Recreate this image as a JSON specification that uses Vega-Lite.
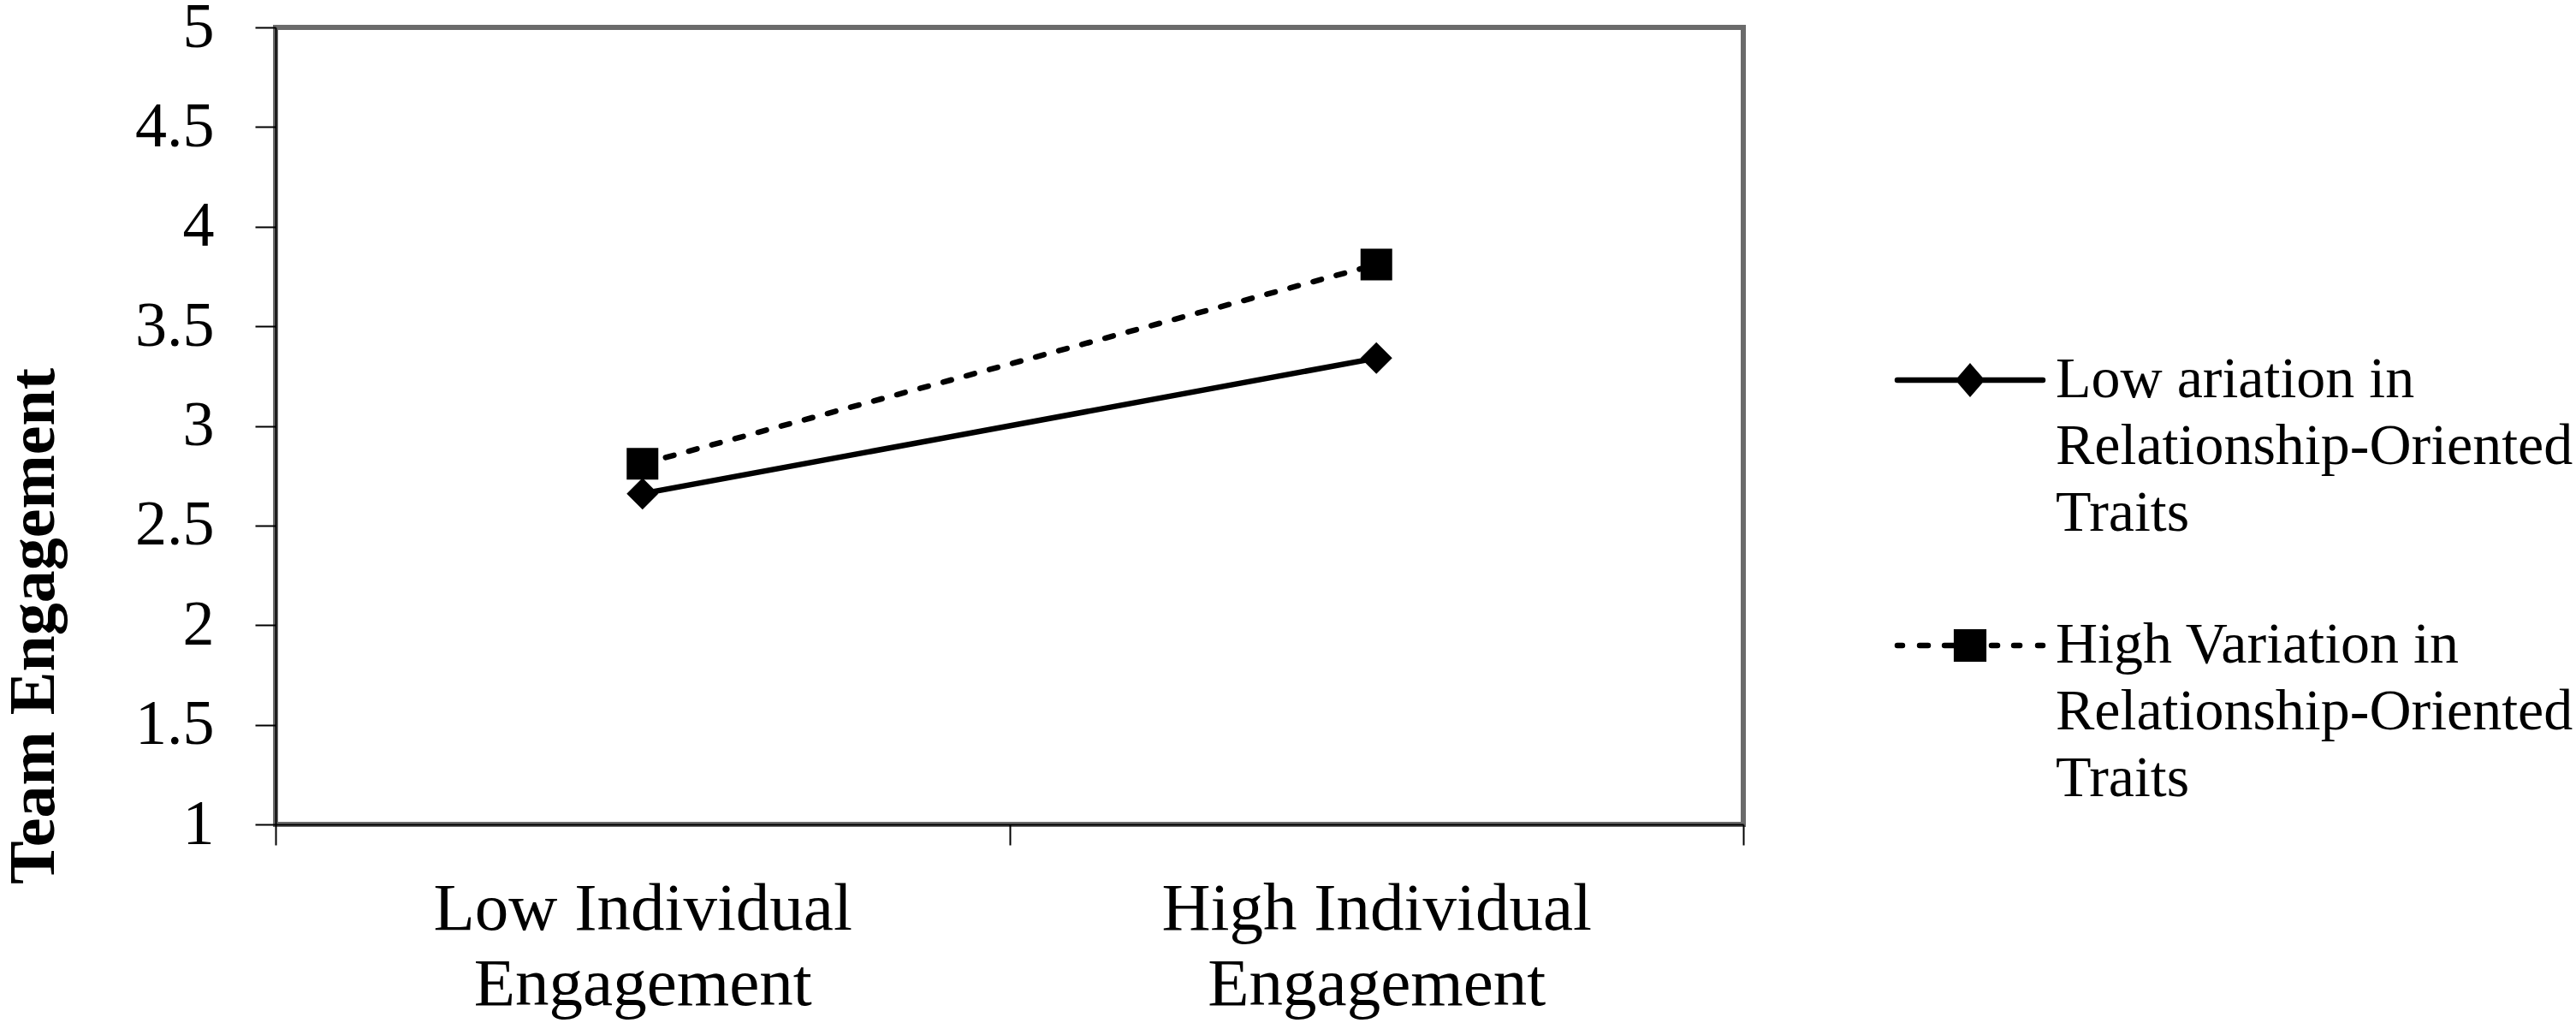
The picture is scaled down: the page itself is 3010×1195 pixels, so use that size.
{
  "$schema": "https://vega.github.io/schema/vega-lite/v6.json",
  "autosize": "none",
  "width": 1715,
  "height": 931,
  "padding": {"left": 322, "top": 32, "right": 973, "bottom": 232},
  "background": "white",
  "data": {
    "values": [
      {"engagement": "Low Individual Engagement", "variation": "Low ariation in Relationship-Oriented Traits", "team": 2.66},
      {"engagement": "High Individual Engagement", "variation": "Low ariation in Relationship-Oriented Traits", "team": 3.34},
      {"engagement": "Low Individual Engagement", "variation": "High Variation in Relationship-Oriented Traits", "team": 2.81},
      {"engagement": "High Individual Engagement", "variation": "High Variation in Relationship-Oriented Traits", "team": 3.81}
    ]
  },
  "encoding": {
    "x": {
      "field": "engagement",
      "type": "nominal",
      "sort": ["Low Individual Engagement", "High Individual Engagement"],
      "scale": {"type": "band", "paddingInner": 0, "paddingOuter": 0},
      "axis": {
        "title": null,
        "labelAngle": 0,
        "tickBand": "extent",
        "labelExpr": "datum.label == null || datum.label == '' ? '' : [replace(datum.label, ' Engagement', ''), 'Engagement']",
        "labelFontSize": 79,
        "labelLineHeight": 88,
        "labelLimit": 2000,
        "labelPadding": 36,
        "labelBaseline": "top"
      }
    },
    "y": {
      "field": "team",
      "type": "quantitative",
      "scale": {"domain": [1, 5], "nice": false, "zero": false},
      "axis": {
        "title": "Team Engagement",
        "values": [1, 1.5, 2, 2.5, 3, 3.5, 4, 4.5, 5],
        "format": "~g",
        "labelFontSize": 74,
        "labelPadding": 48,
        "titleFontSize": 76,
        "titleFontWeight": "bold",
        "titleAngle": 270,
        "titleAlign": "center",
        "titleBaseline": "alphabetic",
        "titleX": -260,
        "titleY": 699
      }
    }
  },
  "layer": [
    {
      "transform": [{"filter": "indexof(datum.variation, 'Low') === 0"}],
      "mark": {"type": "line", "color": "black", "strokeWidth": 6.5, "strokeCap": "round"},
      "encoding": {}
    },
    {
      "transform": [{"filter": "indexof(datum.variation, 'High') === 0"}],
      "mark": {"type": "line", "color": "black", "strokeWidth": 6.5, "strokeCap": "round", "strokeDash": [10, 18]},
      "encoding": {}
    },
    {
      "transform": [{"filter": "indexof(datum.variation, 'Low') === 0"}],
      "mark": {"type": "point", "shape": "diamond", "filled": true, "opacity": 1, "size": 1369},
      "encoding": {
        "color": {
          "field": "variation",
          "type": "nominal",
          "scale": {
            "domain": ["Low ariation in Relationship-Oriented Traits", "High Variation in Relationship-Oriented Traits"],
            "range": ["black", "black"]
          },
          "legend": {
            "title": null,
            "orient": "none",
            "legendX": 1946,
            "legendY": 378,
            "padding": 0,
            "symbolSize": 1369,
            "symbolStrokeWidth": 6.5,
            "symbolStrokeColor": "black",
            "symbolFillColor": "black",
            "symbolOpacity": 1,
            "labelFontSize": 68,
            "labelLimit": 2000,
            "labelOffset": 66,
            "labelBaseline": "middle",
            "rowPadding": 86,
            "labelExpr": "split(replace(datum.label, ' Relationship-Oriented ', '|Relationship-Oriented|'), '|')",
            "encode": {
              "symbols": {
                "update": {
                  "shape": {"signal": "datum.value === 'Low ariation in Relationship-Oriented Traits' ? 'M-4.595,0H4.595M0,-0.81L0.703,0L0,0.81L-0.703,0Z' : 'M-4.595,0H-4.272M-3.187,0H-2.65M-1.617,0H-0.999M-0.856,-0.856H0.856V0.856H-0.856ZM1.351,0H1.732M2.759,0H3.14M4.272,0H4.595'"},
                  "size": {"value": 1369},
                  "stroke": {"value": "black"},
                  "strokeWidth": {"value": 6.5},
                  "strokeCap": {"value": "round"},
                  "opacity": {"value": 1}
                }
              },
              "labels": {
                "update": {
                  "lineHeight": {"value": 78}
                }
              }
            }
          }
        }
      }
    },
    {
      "transform": [{"filter": "indexof(datum.variation, 'High') === 0"}],
      "mark": {"type": "point", "shape": "square", "filled": true, "color": "black", "opacity": 1, "size": 1369},
      "encoding": {}
    }
  ],
  "config": {
    "font": "Liberation Serif",
    "view": {"stroke": "#6b6b6b", "strokeWidth": 6},
    "axis": {
      "labelFont": "Liberation Serif",
      "titleFont": "Liberation Serif",
      "labelColor": "black",
      "titleColor": "black",
      "grid": false,
      "domainColor": "black",
      "domainWidth": 2,
      "tickColor": "black",
      "tickWidth": 2,
      "tickSize": 24
    },
    "legend": {
      "labelFont": "Liberation Serif",
      "labelColor": "black"
    }
  }
}
